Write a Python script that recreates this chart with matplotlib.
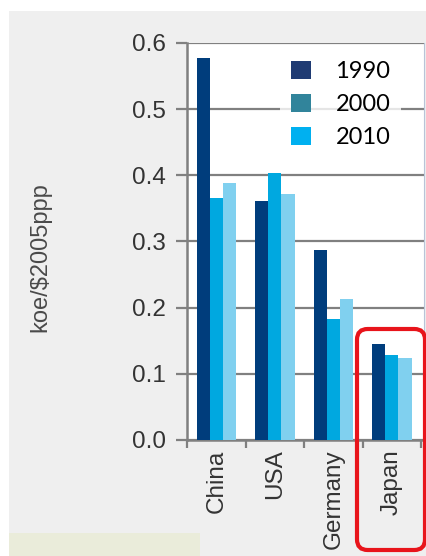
import matplotlib
matplotlib.use("Agg")
import matplotlib.pyplot as plt
import numpy as np
from matplotlib.patches import Rectangle, FancyBboxPatch, Patch

categories = ["China", "USA", "Germany", "Japan"]
years = ["1990", "2000", "2010"]
v1990 = [0.577, 0.361, 0.287, 0.145]
v2000 = [0.366, 0.403, 0.183, 0.128]
v2010 = [0.389, 0.372, 0.213, 0.124]
yticks = [0.0, 0.1, 0.2, 0.3, 0.4, 0.5, 0.6]
ytick_labels = ["0.0", "0.1", "0.2", "0.3", "0.4", "0.5", "0.6"]

bar_colors = ["#003d7c", "#00a8e0", "#80d0ef"]
legend_colors = ["#1f3b73", "#31849b", "#00b0f0"]

W, H = 426, 556
fig = plt.figure(figsize=(W / 100, H / 100), dpi=100)
fig.patch.set_facecolor("white")

def fx(px):
    return px / W

def fy(py):
    return 1 - py / H

# background panels
fig.patches.append(Rectangle((fx(9), 0), 1 - fx(9), fy(11), transform=fig.transFigure,
                             facecolor="#efefef", edgecolor="none", zorder=-2))
fig.patches.append(Rectangle((fx(9), 0), fx(200) - fx(9), fy(533), transform=fig.transFigure,
                             facecolor="#eaecda", edgecolor="none", zorder=-1))

left, right, top, bottom = 187, 424, 43, 440
ax = fig.add_axes([fx(left), fy(bottom), fx(right) - fx(left), fy(top) - fy(bottom)])
ax.set_facecolor("white")
ax.set_zorder(1)

x = np.arange(len(categories))
bw = 0.225
for i, (vals, col) in enumerate(zip([v1990, v2000, v2010], bar_colors)):
    ax.bar(x + (i - 1) * bw, vals, width=bw, color=col, zorder=3, linewidth=0)

ax.set_xlim(-0.5, 3.55)
ax.set_ylim(0, 0.6)
ax.set_yticks(yticks)
ax.set_yticklabels(ytick_labels)
gray = "#808080"
ax.yaxis.grid(True, color=gray, linewidth=1.6, zorder=1)
ax.set_axisbelow(True)

ax.set_xticks(np.arange(-0.5, 4, 1.0))
ax.set_xticklabels([])
ax.set_xticks(x, minor=True)
ax.set_xticklabels(categories, minor=True, rotation=90, va="top", ha="center")
ax.tick_params(axis="x", which="minor", length=0, pad=7)
ax.tick_params(axis="x", which="major", length=6, width=1.6, color=gray)
ax.tick_params(axis="y", length=8, width=1.6, color=gray, pad=7)

for lab in ax.get_yticklabels() + ax.get_xticklabels(minor=True):
    lab.set_fontfamily("Liberation Sans")
    lab.set_fontsize(17.5)
    lab.set_color("#333333")

for s in ["left", "bottom"]:
    ax.spines[s].set_color(gray)
    ax.spines[s].set_linewidth(1.8)
ax.spines["top"].set_visible(False)
ax.spines["right"].set_color("#b8c4d8")
ax.spines["right"].set_linewidth(0.8)

fig.text(fx(40), fy(257), "koe/$2005ppp", rotation=90, ha="center", va="center",
         fontsize=17, family="Liberation Sans", color="#4a4a4a")

handles = [Patch(facecolor=c, edgecolor="none") for c in legend_colors]
leg = ax.legend(handles, years, loc="upper left", bbox_to_anchor=(fx(280), fy(50)),
                bbox_transform=fig.transFigure, frameon=True, fancybox=False,
                prop={"family": "Lato", "size": 17}, handlelength=0.85, handleheight=0.8,
                handletextpad=1.05, labelspacing=0.5, borderpad=0.45, borderaxespad=0)
leg.get_frame().set_facecolor("white")
leg.get_frame().set_edgecolor("none")
leg.set_zorder(5)

box = FancyBboxPatch((fx(357), fy(550)), fx(425) - fx(357), fy(329) - fy(550),
                     boxstyle="round,pad=0,rounding_size=0.025", transform=fig.transFigure,
                     facecolor="none", edgecolor="#e8141b", linewidth=3, zorder=10,
                     mutation_aspect=W / H)
box.set_clip_on(False)
ax.add_artist(box)

fig.savefig("out.png", dpi=100)
